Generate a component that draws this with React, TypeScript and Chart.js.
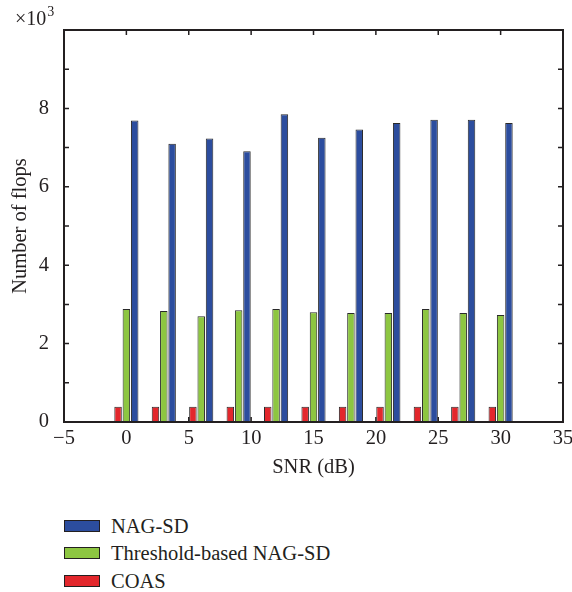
import React, { useEffect, useRef } from 'react';
import { Chart, registerables } from 'chart.js';

Chart.register(...registerables);

// SNR values (dB) of each bar group
const snr = [0, 3, 6, 9, 12, 15, 18, 21, 24, 27, 30];
// Number of flops per method
const nagSd = [7690, 7100, 7230, 6910, 7850, 7250, 7460, 7630, 7710, 7710, 7630];
const thresholdNagSd = [2880, 2830, 2700, 2850, 2880, 2800, 2780, 2780, 2880, 2780, 2730];
const coas = [390, 390, 390, 390, 390, 390, 390, 390, 390, 390, 390];

const seriesNames = ['NAG-SD', 'Threshold-based NAG-SD', 'COAS'];
const seriesColors = ['#2c4d9e', '#8dc641', '#e3272c'];

const xMin = -5;
const xMax = 35;
const xStep = 5;
const yMax = 10000;
const yStep = 2000;
const yMinorStep = 1000;
const axisTitleX = 'SNR (dB)';
const axisTitleY = 'Number of flops';

const INK = '#231f20';
const FONT = '"Liberation Serif", "Times New Roman", serif';

const W = 572;
const H = 482;

const framePlugin = {
  id: 'matlabFrame',
  beforeDatasetsDraw(chart: any) {
    const { ctx, chartArea: a, scales } = chart;
    const x = scales.x;
    const y = scales.y;
    ctx.save();
    ctx.strokeStyle = INK;
    ctx.lineWidth = 1.5;
    const tl = 5;
    ctx.beginPath();
    for (let v = xMin; v <= xMax; v += xStep) {
      const px = x.getPixelForValue(v);
      ctx.moveTo(px, a.bottom);
      ctx.lineTo(px, a.bottom - tl);
      ctx.moveTo(px, a.top);
      ctx.lineTo(px, a.top + tl);
    }
    for (let v = 0; v <= yMax; v += yMinorStep) {
      const py = y.getPixelForValue(v);
      ctx.moveTo(a.left, py);
      ctx.lineTo(a.left + tl, py);
      ctx.moveTo(a.right, py);
      ctx.lineTo(a.right - tl, py);
    }
    ctx.stroke();
    ctx.restore();
  },
  afterDatasetsDraw(chart: any) {
    const { ctx, chartArea: a } = chart;
    ctx.save();
    ctx.strokeStyle = INK;
    ctx.lineWidth = 2;
    ctx.strokeRect(a.left, a.top, a.right - a.left, a.bottom - a.top);
    // exponent label
    ctx.fillStyle = INK;
    ctx.textBaseline = 'alphabetic';
    ctx.textAlign = 'left';
    ctx.font = `20px ${FONT}`;
    const base = '\u00d710';
    ctx.fillText(base, 15, 25);
    const w = ctx.measureText(base).width;
    ctx.font = `14px ${FONT}`;
    ctx.fillText('3', 15 + w + 1, 16);
    ctx.restore();
  },
};

function makeData(values: number[]) {
  return snr.map((s, i) => ({ x: s, y: values[i] }));
}

export default function App() {
  const ref = useRef<HTMLCanvasElement | null>(null);

  useEffect(() => {
    if (!ref.current) return;
    const chart = new Chart(ref.current, {
      type: 'bar',
      data: {
        datasets: [
          {
            label: seriesNames[2],
            data: makeData(coas),
            backgroundColor: seriesColors[2],
            borderColor: '#2a2a2a',
            borderWidth: 1,
          },
          {
            label: seriesNames[1],
            data: makeData(thresholdNagSd),
            backgroundColor: seriesColors[1],
            borderColor: '#2a2a2a',
            borderWidth: 1,
          },
          {
            label: seriesNames[0],
            data: makeData(nagSd),
            backgroundColor: seriesColors[0],
            borderColor: '#2a2a2a',
            borderWidth: 1,
          },
        ],
      },
      options: {
        animation: false,
        responsive: false,
        devicePixelRatio: 1,
        categoryPercentage: 0.667,
        barPercentage: 0.9,
        layout: { padding: { top: 30, right: 9, left: 0, bottom: 2 } },
        plugins: {
          legend: { display: false },
          tooltip: { enabled: false },
          title: { display: false },
        },
        scales: {
          x: {
            type: 'linear',
            offset: false,
            min: xMin,
            max: xMax,
            grid: { display: false, drawTicks: false },
            border: { display: false },
            ticks: {
              stepSize: xStep,
              padding: 4,
              color: INK,
              font: { family: FONT, size: 20.5 },
              maxRotation: 0,
              callback: (v: any) => String(v).replace('-', '\u2212'),
            },
            title: {
              display: true,
              text: axisTitleX,
              color: INK,
              font: { family: FONT, size: 20.5 },
              padding: 0,
            },
            afterFit: (s: any) => {
              s.height = H - 2 - 422;
              s.paddingLeft = 0;
              s.paddingRight = 0;
            },
          },
          y: {
            min: 0,
            max: yMax,
            grid: { display: false, drawTicks: false },
            border: { display: false },
            ticks: {
              stepSize: yStep,
              padding: 15,
              color: INK,
              font: { family: FONT, size: 20.5 },
              callback: (v: any) => (v >= yMax ? '' : String(v / 1000)),
            },
            title: {
              display: true,
              text: axisTitleY,
              color: INK,
              font: { family: FONT, size: 20.5 },
              padding: 8,
            },
            afterFit: (s: any) => {
              s.width = 64;
              s.paddingTop = 0;
              s.paddingBottom = 0;
            },
          },
        },
      } as any,
      plugins: [framePlugin],
    });
    return () => chart.destroy();
  }, []);

  const legendRows = [0, 1, 2].map((i) => ({ name: seriesNames[i], color: seriesColors[i] }));

  return (
    <div
      style={{
        position: 'fixed',
        left: 0,
        top: 0,
        width: W,
        height: 592,
        overflow: 'hidden',
        background: '#fff',
      }}
    >
      <canvas ref={ref} width={W} height={H} style={{ position: 'absolute', left: 0, top: 0, width: W, height: H }} />
      {legendRows.map((r, i) => (
        <div
          key={r.name}
          style={{
            position: 'absolute',
            left: 64,
            top: [526, 553, 581][i] - 12,
            height: 24,
            display: 'flex',
            alignItems: 'center',
            fontFamily: FONT,
            fontSize: 20.5,
            color: INK,
            whiteSpace: 'nowrap',
          }}
        >
          <span
            style={{
              display: 'inline-block',
              width: 36,
              height: 12,
              boxSizing: 'border-box',
              border: `1.5px solid ${INK}`,
              background: r.color,
              marginRight: 11,
            }}
          />
          <span style={{ lineHeight: '24px' }}>{r.name}</span>
        </div>
      ))}
    </div>
  );
}
